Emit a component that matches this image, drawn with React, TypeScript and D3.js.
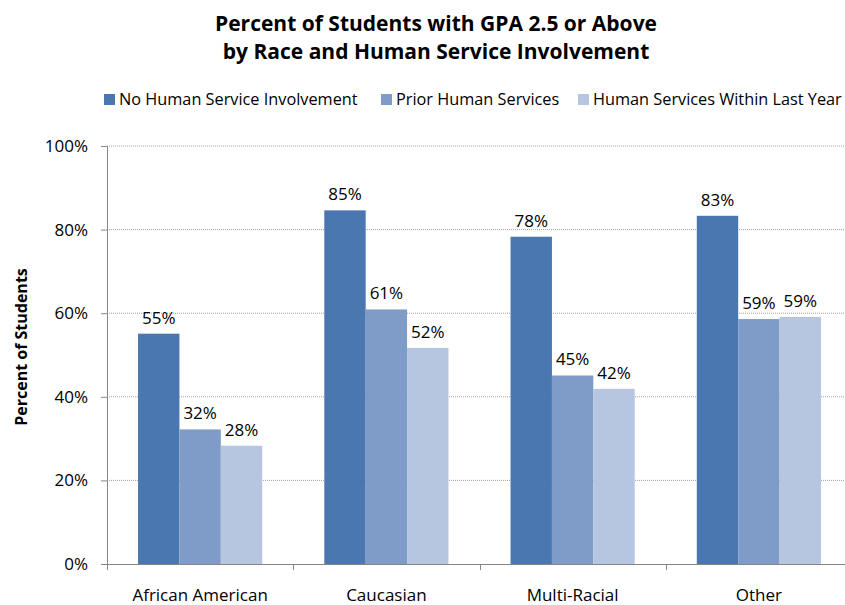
import React, { useEffect, useRef } from "react";
import * as d3 from "d3";

const categories = ["African American", "Caucasian", "Multi-Racial", "Other"];
const seriesNames = ["No Human Service Involvement", "Prior Human Services", "Human Services Within Last Year"];
const noInvolvement = [55.1, 84.6, 78.3, 83.3];
const priorServices = [32.2, 60.9, 45.1, 58.6];
const withinLastYear = [28.3, 51.7, 41.9, 59.1];
const yTicks = [0, 20, 40, 60, 80, 100];
const colors = ["#4A77B0", "#7F9CC9", "#B7C6E0"];

const W = 845, H = 605;
const FONT = "'Open Sans', 'Liberation Sans', sans-serif";

export default function App() {
  const ref = useRef<SVGSVGElement>(null);
  useEffect(() => {
    const svg = d3.select(ref.current);
    svg.selectAll("*").remove();
    const left = 107, right = 852, top = 146, bottom = 564;
    const x = d3.scaleBand<string>().domain(categories).range([left, right]).paddingInner(0).paddingOuter(0);
    const y = d3.scaleLinear().domain([0, 100]).range([bottom, top]);
    const step = x.step();
    const bw = step / 4.5;
    const x1 = d3.scaleBand<number>().domain([0, 1, 2]).range([0, bw * 3]);
    const series = [noInvolvement, priorServices, withinLastYear];

    // title
    const title = svg.append("text").attr("x", 436).attr("text-anchor", "middle")
      .attr("font-family", FONT).attr("font-weight", "bold").attr("font-size", 21).attr("fill", "#000");
    title.append("tspan").attr("x", 436).attr("y", 31).text("Percent of Students with GPA 2.5 or Above");
    title.append("tspan").attr("x", 436).attr("y", 59).text("by Race and Human Service Involvement");

    // legend
    const legendX = [104, 381, 578];
    seriesNames.forEach((n, i) => {
      svg.append("rect").attr("x", legendX[i]).attr("y", 94).attr("width", 11).attr("height", 11).attr("fill", colors[i]);
      svg.append("text").attr("x", legendX[i] + 15).attr("y", 105).attr("font-family", FONT).attr("font-size", 16.3)
        .attr("fill", "#000").text(n);
    });

    // gridlines
    svg.append("g").selectAll("line").data(yTicks.filter(t => t > 0)).join("line")
      .attr("x1", left).attr("x2", right).attr("y1", d => y(d)).attr("y2", d => y(d))
      .attr("stroke", "#A0A0A0").attr("stroke-width", 1).attr("stroke-dasharray", "1,1");

    // y axis
    const ya = svg.append("g").attr("transform", `translate(${left},0)`)
      .call(d3.axisLeft(y).tickValues(yTicks).tickFormat(d => `${d}%`).tickSize(6).tickPadding(13));
    ya.select(".domain").attr("stroke", "#868686");
    ya.selectAll(".tick line").attr("stroke", "#868686");
    ya.selectAll("text").attr("font-family", FONT).attr("font-size", 17).attr("fill", "#000");

    // bars
    categories.forEach((c, ci) => {
      const gx = (x(c) as number) + (step - bw * 3) / 2;
      series.forEach((s, si) => {
        const v = s[ci];
        const bx = gx + (x1(si) as number);
        svg.append("rect").attr("x", bx).attr("y", y(v)).attr("width", bw).attr("height", y(0) - y(v))
          .attr("fill", colors[si]);
        svg.append("text").attr("x", bx + bw / 2).attr("y", y(v) - 10).attr("text-anchor", "middle")
          .attr("font-family", FONT).attr("font-size", 17).attr("fill", "#000").text(`${Math.round(v)}%`);
      });
    });

    // x axis
    svg.append("line").attr("x1", left).attr("x2", right).attr("y1", bottom + 0.5).attr("y2", bottom + 0.5)
      .attr("stroke", "#868686");
    const bounds = [...categories.map(c => x(c) as number), right];
    svg.append("g").selectAll("line").data(bounds).join("line")
      .attr("x1", d => Math.round(d) + 0.5).attr("x2", d => Math.round(d) + 0.5)
      .attr("y1", bottom).attr("y2", bottom + 6).attr("stroke", "#868686");
    svg.append("g").selectAll("text").data(categories).join("text")
      .attr("x", d => (x(d) as number) + step / 2).attr("y", 601).attr("text-anchor", "middle")
      .attr("font-family", FONT).attr("font-size", 17).attr("fill", "#000").text(d => d);

    // y label
    svg.append("text").attr("transform", `translate(27,347) rotate(-90)`).attr("text-anchor", "middle")
      .attr("font-family", FONT).attr("font-weight", "bold").attr("font-size", 16).attr("fill", "#000")
      .text("Percent of Students");
  }, []);
  return <svg ref={ref} width={W} height={H} style={{ display: "block", position: "absolute", left: 0, top: 0 }} />;
}
